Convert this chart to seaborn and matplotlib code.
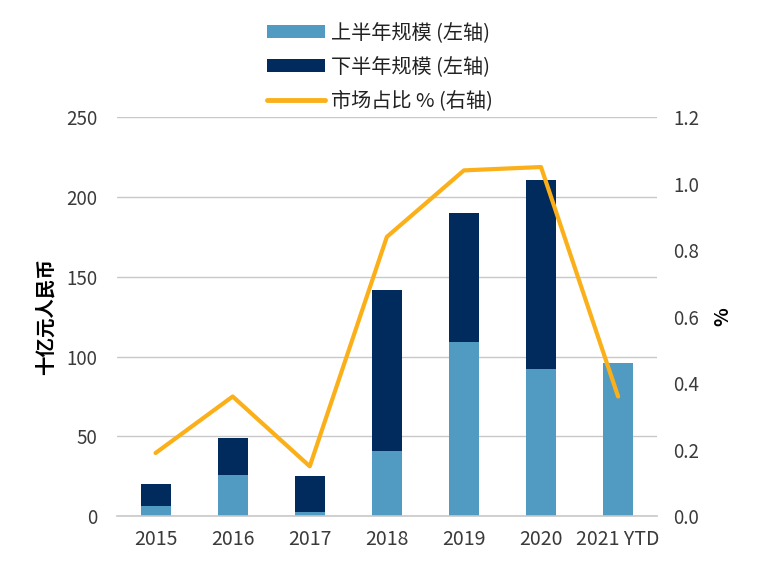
import numpy as np
import pandas as pd
import matplotlib
matplotlib.use("Agg")
import matplotlib.pyplot as plt
import seaborn as sns
from matplotlib.patches import Patch
from matplotlib.lines import Line2D

years = ["2015", "2016", "2017", "2018", "2019", "2020", "2021 YTD"]
h1 = [6.3, 25.5, 2.5, 41, 109, 92, 96]
h2 = [13.7, 23.5, 22.5, 101, 81, 118.5, 0]
share = [0.19, 0.36, 0.15, 0.84, 1.04, 1.05, 0.36]

light = "#519BC3"
dark = "#002B5C"
orange = "#FBB01A"

sns.set_theme(style="white")
plt.rcParams['font.family'] = ['Noto Sans CJK SC', 'DejaVu Sans']

df = pd.DataFrame({"year": years, "h1": h1, "h2": h2, "share": share})
df["total"] = df["h1"] + df["h2"]

fig = plt.figure(figsize=(7.6, 5.66), dpi=100)
ax = fig.add_axes([0.154, 0.088, 0.71, 0.705])

sns.barplot(data=df, x="year", y="total", color=dark, width=0.39, ax=ax,
            saturation=1, linewidth=0, edgecolor="none")
sns.barplot(data=df, x="year", y="h1", color=light, width=0.39, ax=ax,
            saturation=1, linewidth=0, edgecolor="none")

ax.set_ylim(0, 250)
ax.set_yticks(np.arange(0, 251, 50))
ax.set_xlim(-0.5, len(years) - 0.5)
ax.grid(axis="y", color="#C8C8C8", linewidth=1)
ax.set_axisbelow(True)
for s in ["left", "right", "top"]:
    ax.spines[s].set_visible(False)
ax.spines["bottom"].set_color("#C8C8C8")
ax.spines["bottom"].set_linewidth(1.2)
ax.tick_params(axis="y", length=0, labelsize=13.5, labelcolor="#3A3A3A", pad=14)
ax.tick_params(axis="x", which="major", length=0, labelsize=14, labelcolor="#3A3A3A", pad=9)
ax.set_xticks(np.arange(-0.5, len(years), 1), minor=True)
ax.tick_params(axis="x", which="minor", length=7, color="#C8C8C8", width=1.2)
ax.set_xlabel("")
ax.set_ylabel("十亿元人民币", fontsize=14, fontweight="bold", color="black", labelpad=8)

ax2 = ax.twinx()
sns.lineplot(x=np.arange(len(years)), y=df["share"], color=orange, linewidth=3, ax=ax2)
ax2.set_ylim(0, 1.2)
ax2.set_yticks(np.arange(0, 1.21, 0.2))
ax2.set_yticklabels([f"{v:.1f}" for v in np.arange(0, 1.21, 0.2)])
ax2.tick_params(axis="y", length=0, labelsize=13.5, labelcolor="#3A3A3A", pad=12)
for s in ["left", "right", "top", "bottom"]:
    ax2.spines[s].set_visible(False)
ax2.set_ylabel("%", fontsize=14, fontweight="bold", color="black", labelpad=10)
ax2.grid(False)

handles = [
    Patch(facecolor=light, edgecolor="none"),
    Patch(facecolor=dark, edgecolor="none"),
    Line2D([0], [0], color=orange, linewidth=3.5),
]
labels = ["上半年规模 (左轴)", "下半年规模 (左轴)", "市场占比 % (右轴)"]
fig.legend(handles, labels, loc="upper center", bbox_to_anchor=(0.5, 0.992),
           frameon=False, fontsize=14.5, handlelength=2.9, handleheight=0.6,
           labelspacing=0.65, handletextpad=0.3, labelcolor="#222222")

fig.savefig("out.png", dpi=100)
